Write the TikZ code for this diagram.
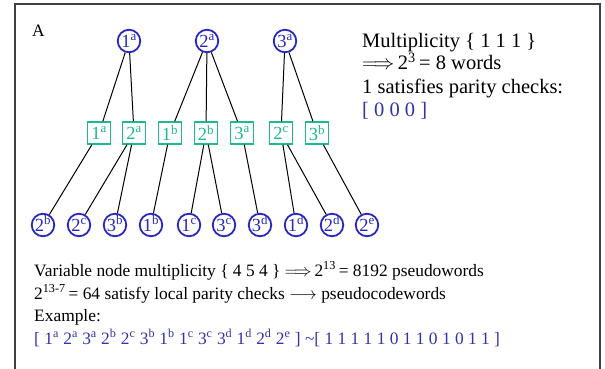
\documentclass[tikz,border=0pt]{standalone}
\usepackage{fontspec}
\setmainfont{Liberation Serif}
\definecolor{varblue}{RGB}{40,40,190}
\definecolor{chkgreen}{RGB}{30,185,140}
\definecolor{txtblue}{RGB}{50,50,170}
% label with superscript (check nodes, text)
\newcommand{\sx}[2]{#1\textsuperscript{#2}}
% label of zero size, so that the circle keeps its own size
\newcommand{\vl}[2]{\makebox[0pt]{\raisebox{-0.33em}[0pt][0pt]{#1\textsuperscript{#2}}}}
\begin{document}
\begin{tikzpicture}[x=1pt,y=-1pt,
  var/.style={circle,draw=varblue,line width=1.8pt,text=varblue,minimum size=22.5pt,inner sep=0pt,font=\fontsize{18.5}{18.5}\selectfont},
  chk/.style={rectangle,draw=chkgreen,line width=1.5pt,text=chkgreen,minimum width=23pt,minimum height=22pt,inner sep=0pt,font=\fontsize{18.5}{18.5}\selectfont},
  edge/.style={line width=1pt,black},
  txt/.style={anchor=base west,inner sep=0pt,font=\fontsize{17.4}{17.4}\selectfont},
  bigtxt/.style={txt,font=\fontsize{20.5}{20.5}\selectfont}]
\useasboundingbox (0,0) rectangle (605,369);
% frame
\draw[line width=1.6pt,black!75] (15,400) -- (15,4) -- (600,4) -- (600,400);
\node[txt] (lbl) at (32,37) {A};
% top variable nodes
\node[var] (t1) at (129,41) {\vl{1}{a}};
\node[var] (t2) at (207,41) {\vl{2}{a}};
\node[var] (t3) at (285,41) {\vl{3}{a}};
% check nodes
\node[chk] (c1) at (99,133) {\sx{1}{a}};
\node[chk] (c2) at (134,133) {\sx{2}{a}};
\node[chk] (c3) at (170,133) {\sx{1}{b}};
\node[chk] (c4) at (206,133) {\sx{2}{b}};
\node[chk] (c5) at (242,133) {\sx{3}{a}};
\node[chk] (c6) at (281,133) {\sx{2}{c}};
\node[chk] (c7) at (317,133) {\sx{3}{b}};
% bottom variable nodes
\node[var] (b1) at (43,225) {\vl{2}{b}};
\node[var] (b2) at (79,225) {\vl{2}{c}};
\node[var] (b3) at (115,225) {\vl{3}{b}};
\node[var] (b4) at (151,225) {\vl{1}{b}};
\node[var] (b5) at (189,225) {\vl{1}{c}};
\node[var] (b6) at (224,225) {\vl{3}{c}};
\node[var] (b7) at (260,225) {\vl{3}{d}};
\node[var] (b8) at (296,225) {\vl{1}{d}};
\node[var] (b9) at (332,225) {\vl{2}{d}};
\node[var] (b10) at (367,225) {\vl{2}{e}};
% edges
\draw[edge] (t1) -- (c1);
\draw[edge] (t1) -- (c2);
\draw[edge] (t2) -- (c3);
\draw[edge] (t2) -- (c4);
\draw[edge] (t2) -- (c5);
\draw[edge] (t3) -- (c6);
\draw[edge] (t3) -- (c7);
\draw[edge] (c1) -- (b1);
\draw[edge] (c2) -- (b2);
\draw[edge] (c2) -- (b3);
\draw[edge] (c3) -- (b4);
\draw[edge] (c4) -- (b5);
\draw[edge] (c4) -- (b6);
\draw[edge] (c5) -- (b7);
\draw[edge] (c6) -- (b8);
\draw[edge] (c6) -- (b9);
\draw[edge] (c7) -- (b10);
% side text
\node[bigtxt] (m1) at (362,48) {Multiplicity \{ 1 1 1 \}};
\node[bigtxt] (m2) at (362,70) {$\Longrightarrow$\,2\textsuperscript{3}\,= 8 words};
\node[bigtxt] (m3) at (362,93) {1 satisfies parity checks:};
\node[bigtxt,text=txtblue] (m4) at (362,116) {[ 0 0 0 ]};
% bottom text
\node[txt] (l1) at (34,276) {Variable node multiplicity \{ 4 5 4 \} $\Longrightarrow$\,2\textsuperscript{13}\,= 8192 pseudowords};
\node[txt] (l2) at (34,299) {2\textsuperscript{13-7}\,= 64 satisfy local parity checks $\longrightarrow$ pseudocodewords};
\node[txt] (l3) at (34,321) {Example:};
\node[txt,text=txtblue] (l4) at (34,344) {[ \sx{1}{a} \sx{2}{a} \sx{3}{a} \sx{2}{b} \sx{2}{c} \sx{3}{b} \sx{1}{b} \sx{1}{c} \sx{3}{c} \sx{3}{d} \sx{1}{d} \sx{2}{d} \sx{2}{e} ] \char`~ [ 1 1 1 1 1 0 1 1 0 1 0 1 1 ]};
\end{tikzpicture}
\end{document}
